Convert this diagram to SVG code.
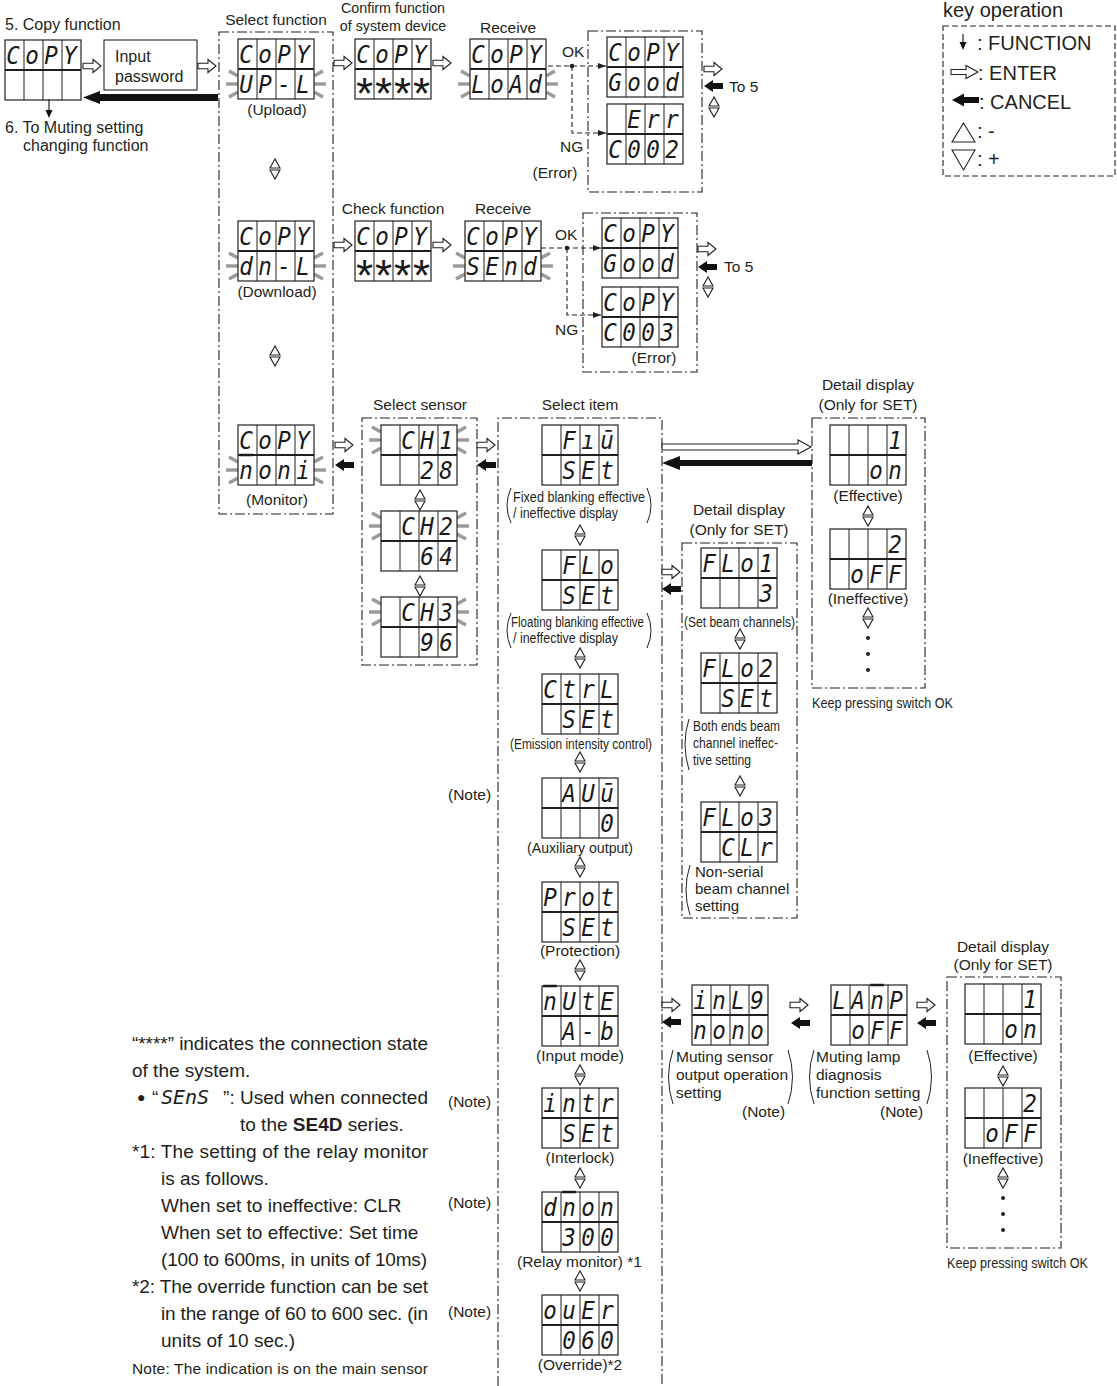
<svg xmlns="http://www.w3.org/2000/svg" width="1117" height="1386" viewBox="0 0 1117 1386">
<style>
text{font-family:"Liberation Sans",Arial,sans-serif;fill:#231f20}
.l{font-size:15.5px}
.m{text-anchor:middle}
.s16{font-size:16px}
.c14{font-size:14.3px}
.big{font-size:19px}
.key{font-size:20px}
.seg{font-family:"DejaVu Sans Mono",monospace;font-style:oblique;font-size:25px;fill:#1a1a1a;text-anchor:middle}
.ov{text-decoration:overline}
.ast{font-family:"Liberation Sans",Arial,sans-serif;font-size:44px;fill:#1a1a1a;text-anchor:middle}
.dd{fill:none;stroke:#231f20;stroke-width:1.1;stroke-dasharray:10 3 2 3}
.kd{fill:none;stroke:#231f20;stroke-width:1.1;stroke-dasharray:6 3}
.cn{fill:none;stroke:#231f20;stroke-width:1.1;stroke-dasharray:5 3}
.par{fill:none;stroke:#231f20;stroke-width:1}
.ent{fill:#fff;stroke:#231f20;stroke-width:1.1}
.can{fill:#111}
.bl{fill:none;stroke:#9b9b9b;stroke-width:3.5}
.ln{fill:none;stroke:#231f20;stroke-width:1.2}
</style>
<defs>
<g id="disp"><rect x="0" y="0" width="76" height="60" fill="#fff" stroke="#231f20" stroke-width="1.2"/><path d="M19 0V60M38 0V60M57 0V60" stroke="#231f20" stroke-width="1"/><path d="M0 30H76" stroke="#231f20" stroke-width="1.8"/></g>
<polygon id="enter" class="ent" points="0,-2.7 10,-2.7 10,-6.5 18,0 10,6.5 10,2.7 0,2.7"/>
<polygon id="cancel" class="can" points="0,0 9,-6 9,-3 19,-3 19,3 9,3 9,6"/>
<g id="ud" class="ent"><polygon points="0,-10 -5,-1 5,-1"/><polygon points="-5,1 5,1 0,10"/></g>
<path id="bL" class="bl" d="M-9,-13L0,-8M-12,0H0M-9,13L0,8"/>
<path id="bR" class="bl" d="M9,-13L0,-8M12,0H0M9,13L0,8"/>
<marker id="ah" viewBox="0 0 8 8" refX="8" refY="4" markerWidth="8" markerHeight="8" markerUnits="userSpaceOnUse" orient="auto"><path d="M0,1L8,4L0,7z" fill="#231f20"/></marker>
</defs>
<rect width="1117" height="1386" fill="#fff"/>

<!-- Copy function -->
<g id="n-copy">
<text class="s16" x="5" y="30">5. Copy function</text>
<g transform="translate(5,40)"><use href="#disp"/><text class="seg" transform="scale(0.9,1)"><tspan x="8.9 30 51.1 72.2" y="24">CoPY</tspan></text></g>
</g>
<g id="n-input">
<rect x="104" y="40" width="93" height="50" fill="#fff" stroke="#231f20" stroke-width="1.1"/>
<text class="s16" x="115" y="62">Input</text>
<text class="s16" x="115" y="82">password</text>
</g>
<g id="n-muting-link">
<text class="s16" x="5" y="133">6. To Muting setting</text>
<text class="s16" x="23" y="151">changing function</text>
</g>

<!-- Select function -->
<g id="n-selectfn">
<text class="l m" x="276" y="25">Select function</text>
<rect class="dd" x="219" y="32" width="114" height="482"/>
</g>
<g id="n-upload" transform="translate(238,39)"><use href="#bL" x="0" y="45"/><use href="#bR" x="76" y="45"/><use href="#disp"/><text class="seg" transform="scale(0.9,1)"><tspan x="8.9 30 51.1 72.2" y="24">CoPY</tspan><tspan x="8.9 30 51.1 72.2" y="54">UP-L</tspan></text><text class="l m" x="39" y="76">(Upload)</text></g>
<g id="n-download" transform="translate(238,221)"><use href="#bL" x="0" y="45"/><use href="#bR" x="76" y="45"/><use href="#disp"/><text class="seg" transform="scale(0.9,1)"><tspan x="8.9 30 51.1 72.2" y="24">CoPY</tspan><tspan x="8.9 30 51.1 72.2" y="54">dn-L</tspan></text><text class="l m" x="39" y="76">(Download)</text></g>
<g id="n-monitor" transform="translate(238,425)"><use href="#bL" x="0" y="45"/><use href="#bR" x="76" y="45"/><use href="#disp"/><text class="seg" transform="scale(0.9,1)"><tspan x="8.9 30 51.1 72.2" y="24">CoPY</tspan><tspan class="ov" x="8.9" y="54">n</tspan><tspan x="30 51.1 72.2" y="54">oni</tspan></text><text class="l m" x="39" y="80">(Monitor)</text></g>

<!-- Upload path -->
<g id="n-confirm" transform="translate(355,39)">
<text class="c14 m" x="38" y="-26">Confirm function</text>
<text class="c14 m" x="38" y="-8">of system device</text>
<use href="#disp"/><text class="seg" transform="scale(0.9,1)"><tspan x="8.9 30 51.1 72.2" y="24">CoPY</tspan></text><text class="ast"><tspan x="9.5 28.5 47.5 66.5" y="70">****</tspan></text>
</g>
<g id="n-receive1" transform="translate(470,39)">
<text class="l m" x="38" y="-6">Receive</text>
<use href="#bL" x="0" y="45"/><use href="#bR" x="76" y="45"/><use href="#disp"/><text class="seg" transform="scale(0.9,1)"><tspan x="8.9 30 51.1 72.2" y="24">CoPY</tspan><tspan x="8.9 30 51.1 72.2" y="54">LoAd</tspan></text>
</g>
<g id="n-result1">
<rect class="dd" x="588" y="31" width="114" height="161"/>
<g transform="translate(607,37)"><use href="#disp"/><text class="seg" transform="scale(0.9,1)"><tspan x="8.9 30 51.1 72.2" y="24">CoPY</tspan><tspan x="8.9 30 51.1 72.2" y="54">Good</tspan></text></g>
<g transform="translate(607,104)"><use href="#disp"/><text class="seg" transform="scale(0.9,1)"><tspan x="30 51.1 72.2" y="24">Err</tspan><tspan x="8.9 30 51.1 72.2" y="54">C002</tspan></text></g>
<text class="l" x="562" y="57">OK</text>
<text class="l" x="560" y="152">NG</text>
<text class="l m" x="555" y="178">(Error)</text>
<text class="l" x="729" y="92">To 5</text>
</g>

<!-- Download path -->
<g id="n-check" transform="translate(355,221)">
<text class="l m" x="38" y="-7">Check function</text>
<use href="#disp"/><text class="seg" transform="scale(0.9,1)"><tspan x="8.9 30 51.1 72.2" y="24">CoPY</tspan></text><text class="ast"><tspan x="9.5 28.5 47.5 66.5" y="70">****</tspan></text>
</g>
<g id="n-receive2" transform="translate(465,221)">
<text class="l m" x="38" y="-7">Receive</text>
<use href="#bL" x="0" y="45"/><use href="#bR" x="76" y="45"/><use href="#disp"/><text class="seg" transform="scale(0.9,1)"><tspan x="8.9 30 51.1 72.2" y="24">CoPY</tspan><tspan x="8.9 30 51.1 72.2" y="54">SEnd</tspan></text>
</g>
<g id="n-result2">
<rect class="dd" x="583" y="213" width="114" height="159"/>
<g transform="translate(602,218)"><use href="#disp"/><text class="seg" transform="scale(0.9,1)"><tspan x="8.9 30 51.1 72.2" y="24">CoPY</tspan><tspan x="8.9 30 51.1 72.2" y="54">Good</tspan></text></g>
<g transform="translate(602,287)"><use href="#disp"/><text class="seg" transform="scale(0.9,1)"><tspan x="8.9 30 51.1 72.2" y="24">CoPY</tspan><tspan x="8.9 30 51.1 72.2" y="54">C003</tspan></text></g>
<text class="l" x="555" y="240">OK</text>
<text class="l" x="555" y="335">NG</text>
<text class="l m" x="654" y="363">(Error)</text>
<text class="l" x="724" y="272">To 5</text>
</g>

<!-- Select sensor -->
<g id="n-sensor">
<text class="l m" x="420" y="410">Select sensor</text>
<rect class="dd" x="362" y="418" width="115" height="247"/>
<g transform="translate(381,425)"><use href="#bL" x="0" y="15"/><use href="#bR" x="76" y="15"/><use href="#disp"/><text class="seg" transform="scale(0.9,1)"><tspan x="30 51.1 72.2" y="24">CH1</tspan><tspan x="51.1 72.2" y="54">28</tspan></text></g>
<g transform="translate(381,511)"><use href="#bL" x="0" y="15"/><use href="#bR" x="76" y="15"/><use href="#disp"/><text class="seg" transform="scale(0.9,1)"><tspan x="30 51.1 72.2" y="24">CH2</tspan><tspan x="51.1 72.2" y="54">64</tspan></text></g>
<g transform="translate(381,597)"><use href="#bL" x="0" y="15"/><use href="#bR" x="76" y="15"/><use href="#disp"/><text class="seg" transform="scale(0.9,1)"><tspan x="30 51.1 72.2" y="24">CH3</tspan><tspan x="51.1 72.2" y="54">96</tspan></text></g>
<use href="#ud" x="420" y="500"/><use href="#ud" x="420" y="586"/>
</g>

<!-- Select item -->
<g id="n-item">
<text class="l m" x="580" y="410">Select item</text>
<path class="dd" d="M498,1386V418H662V1386"/>
<g transform="translate(542,425)"><use href="#disp"/><text class="seg" transform="scale(0.9,1)"><tspan x="30 51.1 72.2" y="24">Fıū</tspan><tspan x="30 51.1 72.2" y="54">SEt</tspan></text></g>
<path class="par" d="M511,488Q503,505.5 511,523M647,488Q655,505.5 647,523"/>
<text style="font-size:14px" x="513" y="502" textLength="132" lengthAdjust="spacingAndGlyphs">Fixed blanking effective</text>
<text style="font-size:14px" x="513" y="518" textLength="105" lengthAdjust="spacingAndGlyphs">/ ineffective display</text>
<g transform="translate(542,550)"><use href="#disp"/><text class="seg" transform="scale(0.9,1)"><tspan x="30 51.1 72.2" y="24">FLo</tspan><tspan x="30 51.1 72.2" y="54">SEt</tspan></text></g>
<path class="par" d="M511,613Q503,630.5 511,648M647,613Q655,630.5 647,648"/>
<text style="font-size:14px" x="511" y="627" textLength="133" lengthAdjust="spacingAndGlyphs">Floating blanking effective</text>
<text style="font-size:14px" x="513" y="643" textLength="105" lengthAdjust="spacingAndGlyphs">/ ineffective display</text>
<g transform="translate(542,674)"><use href="#disp"/><text class="seg" transform="scale(0.9,1)"><tspan x="8.9 30 51.1 72.2" y="24">CtrL</tspan><tspan x="30 51.1 72.2" y="54">SEt</tspan></text></g>
<text class="l" x="510" y="749" textLength="142" lengthAdjust="spacingAndGlyphs">(Emission intensity control)</text>
<g transform="translate(542,778)"><use href="#disp"/><text class="seg" transform="scale(0.9,1)"><tspan x="30 51.1 72.2" y="24">AUū</tspan><tspan x="72.2" y="54">0</tspan></text></g>
<text class="l" x="527" y="853" textLength="106" lengthAdjust="spacingAndGlyphs">(Auxiliary output)</text>
<g transform="translate(542,882)"><use href="#disp"/><text class="seg" transform="scale(0.9,1)"><tspan x="8.9 30 51.1 72.2" y="24">Prot</tspan><tspan x="30 51.1 72.2" y="54">SEt</tspan></text></g>
<text class="l m" x="580" y="956">(Protection)</text>
<g transform="translate(542,986)"><use href="#disp"/><text class="seg" transform="scale(0.9,1)"><tspan class="ov" x="8.9" y="24">n</tspan><tspan x="30 51.1 72.2" y="24">UtE</tspan><tspan x="30 51.1 72.2" y="54">A-b</tspan></text></g>
<text class="l m" x="580" y="1061">(Input mode)</text>
<g transform="translate(542,1088)"><use href="#disp"/><text class="seg" transform="scale(0.9,1)"><tspan x="8.9 30 51.1 72.2" y="24">intr</tspan><tspan x="30 51.1 72.2" y="54">SEt</tspan></text></g>
<text class="l m" x="580" y="1163">(Interlock)</text>
<g transform="translate(542,1192)"><use href="#disp"/><text class="seg" transform="scale(0.9,1)"><tspan x="8.9" y="24">d</tspan><tspan class="ov" x="30" y="24">n</tspan><tspan x="51.1 72.2" y="24">on</tspan><tspan x="30 51.1 72.2" y="54">300</tspan></text></g>
<text class="l" x="517" y="1267">(Relay monitor) *1</text>
<g transform="translate(542,1295)"><use href="#disp"/><text class="seg" transform="scale(0.9,1)"><tspan x="8.9 30 51.1 72.2" y="24">ouEr</tspan><tspan x="30 51.1 72.2" y="54">060</tspan></text></g>
<text class="l m" x="580" y="1370">(Override)*2</text>
<use href="#ud" x="580" y="535"/><use href="#ud" x="580" y="658"/><use href="#ud" x="580" y="762"/><use href="#ud" x="580" y="867"/><use href="#ud" x="580" y="970"/><use href="#ud" x="580" y="1075"/><use href="#ud" x="580" y="1178"/><use href="#ud" x="580" y="1281"/>
<text class="l" x="448" y="800">(Note)</text>
<text class="l" x="448" y="1107">(Note)</text>
<text class="l" x="448" y="1208">(Note)</text>
<text class="l" x="448" y="1317">(Note)</text>
</g>

<!-- Detail display 1 -->
<g id="n-detail1">
<text class="l m" x="868" y="390">Detail display</text>
<text class="l m" x="868" y="410">(Only for SET)</text>
<rect class="dd" x="812" y="418" width="113" height="270"/>
<g transform="translate(830,425)"><use href="#disp"/><text class="seg" transform="scale(0.9,1)"><tspan x="72.2" y="24">1</tspan><tspan x="51.1 72.2" y="54">on</tspan></text></g>
<text class="l m" x="868" y="501">(Effective)</text>
<g transform="translate(830,529)"><use href="#disp"/><text class="seg" transform="scale(0.9,1)"><tspan x="72.2" y="24">2</tspan><tspan x="30 51.1 72.2" y="54">oFF</tspan></text></g>
<text class="l m" x="868" y="604">(Ineffective)</text>
<use href="#ud" x="868" y="516"/><use href="#ud" x="868" y="618"/>
<circle cx="868" cy="638" r="2" fill="#231f20"/><circle cx="868" cy="654" r="2" fill="#231f20"/><circle cx="868" cy="670" r="2" fill="#231f20"/>
<text style="font-size:14px" x="812" y="708" textLength="141" lengthAdjust="spacingAndGlyphs">Keep pressing switch OK</text>
</g>

<!-- Detail display 2 -->
<g id="n-detail2">
<text class="l m" x="739" y="515">Detail display</text>
<text class="l m" x="739" y="535">(Only for SET)</text>
<rect class="dd" x="682" y="543" width="115" height="375"/>
<g transform="translate(701,548)"><use href="#disp"/><text class="seg" transform="scale(0.9,1)"><tspan x="8.9 30 51.1 72.2" y="24">FLo1</tspan><tspan x="72.2" y="54">3</tspan></text></g>
<text style="font-size:15px" x="684" y="627" textLength="111" lengthAdjust="spacingAndGlyphs">(Set beam channels)</text>
<g transform="translate(701,653)"><use href="#disp"/><text class="seg" transform="scale(0.9,1)"><tspan x="8.9 30 51.1 72.2" y="24">FLo2</tspan><tspan x="30 51.1 72.2" y="54">SEt</tspan></text></g>
<path class="par" d="M689,719Q681,744 689,770"/>
<text style="font-size:15px" x="693" y="731" textLength="87" lengthAdjust="spacingAndGlyphs">Both ends beam</text>
<text style="font-size:15px" x="693" y="748" textLength="85" lengthAdjust="spacingAndGlyphs">channel ineffec-</text>
<text style="font-size:15px" x="693" y="765" textLength="58" lengthAdjust="spacingAndGlyphs">tive setting</text>
<g transform="translate(701,802)"><use href="#disp"/><text class="seg" transform="scale(0.9,1)"><tspan x="8.9 30 51.1 72.2" y="24">FLo3</tspan><tspan x="30 51.1 72.2" y="54">CLr</tspan></text></g>
<path class="par" d="M690,865Q682,890 690,915"/>
<text style="font-size:15px" x="695" y="877">Non-serial</text>
<text style="font-size:15px" x="695" y="894">beam channel</text>
<text style="font-size:15px" x="695" y="911">setting</text>
<use href="#ud" x="740" y="639"/><use href="#ud" x="740" y="786"/>
</g>

<!-- Muting settings -->
<g id="n-mutsensor">
<g transform="translate(692,985)"><use href="#disp"/><text class="seg" transform="scale(0.9,1)"><tspan x="8.9 30 51.1 72.2" y="24">inL9</tspan><tspan x="8.9 30 51.1 72.2" y="54">nono</tspan></text></g>
<path class="par" d="M673,1050Q664,1077 673,1104M788,1050Q797,1077 788,1104"/>
<text class="l" x="676" y="1062">Muting sensor</text>
<text class="l" x="676" y="1080">output operation</text>
<text class="l" x="676" y="1098">setting</text>
<text class="l" x="742" y="1117">(Note)</text>
</g>
<g id="n-mutlamp">
<g transform="translate(831,985)"><use href="#disp"/><text class="seg" transform="scale(0.9,1)"><tspan x="8.9 30" y="24">LA</tspan><tspan class="ov" x="51.1" y="24">n</tspan><tspan x="72.2" y="24">P</tspan><tspan x="30 51.1 72.2" y="54">oFF</tspan></text></g>
<path class="par" d="M814,1050Q805,1077 814,1104M927,1050Q936,1077 927,1104"/>
<text class="l" x="816" y="1062">Muting lamp</text>
<text class="l" x="816" y="1080">diagnosis</text>
<text class="l" x="816" y="1098">function setting</text>
<text class="l" x="880" y="1117">(Note)</text>
</g>
<g id="n-detail3">
<text class="l m" x="1003" y="952">Detail display</text>
<text class="l m" x="1003" y="970">(Only for SET)</text>
<rect class="dd" x="947" y="977" width="114" height="271"/>
<g transform="translate(965,984)"><use href="#disp"/><text class="seg" transform="scale(0.9,1)"><tspan x="72.2" y="24">1</tspan><tspan x="51.1 72.2" y="54">on</tspan></text></g>
<text class="l m" x="1003" y="1061">(Effective)</text>
<g transform="translate(965,1088)"><use href="#disp"/><text class="seg" transform="scale(0.9,1)"><tspan x="72.2" y="24">2</tspan><tspan x="30 51.1 72.2" y="54">oFF</tspan></text></g>
<text class="l m" x="1003" y="1164">(Ineffective)</text>
<use href="#ud" x="1003" y="1076"/><use href="#ud" x="1003" y="1178"/>
<circle cx="1003" cy="1198" r="2" fill="#231f20"/><circle cx="1003" cy="1214" r="2" fill="#231f20"/><circle cx="1003" cy="1230" r="2" fill="#231f20"/>
<text style="font-size:14px" x="947" y="1268" textLength="141" lengthAdjust="spacingAndGlyphs">Keep pressing switch OK</text>
</g>

<!-- Key legend -->
<g id="n-key">
<text class="key" x="943" y="17">key operation</text>
<rect class="kd" x="943" y="26" width="172" height="150"/>
<path class="ln" d="M963,34V43"/><polygon points="959.5,42 966.5,42 963,50" fill="#111"/>
<text class="key" x="977" y="50">: FUNCTION</text>
<polygon class="ent" points="951,69.5 966,69.5 966,65.5 978,72 966,78.5 966,74.5 951,74.5"/>
<text class="key" x="978" y="80">: ENTER</text>
<polygon class="can" points="952,100 964,93.5 964,97 979,97 979,103 964,103 964,106.5"/>
<text class="key" x="979" y="109">: CANCEL</text>
<polygon class="ent" points="963.5,123 952,142 975,142"/>
<text class="key" x="977" y="138">: -</text>
<polygon class="ent" points="952,150 975,150 963.5,170"/>
<text class="key" x="977" y="166">: +</text>
</g>

<!-- Connectors -->
<g id="connectors">
<path class="ln" d="M49,99V111"/><polygon points="45.5,110 52.5,110 49,118" fill="#111"/>
<use href="#enter" x="83" y="66"/>
<use href="#enter" x="198" y="66"/>
<polygon class="can" points="83,97.5 100,91 100,94 218,94 218,101 100,101 100,104"/>
<use href="#enter" x="334" y="63"/>
<use href="#enter" x="433" y="63"/>
<use href="#enter" x="334" y="245"/>
<use href="#enter" x="433" y="245"/>
<path class="cn" d="M548,66H606" marker-end="url(#ah)"/>
<path class="cn" d="M572,66V133H606" marker-end="url(#ah)"/>
<circle cx="572" cy="66" r="2.3" fill="#231f20"/>
<path class="cn" d="M541,248H601" marker-end="url(#ah)"/>
<path class="cn" d="M567,248V315H601" marker-end="url(#ah)"/>
<circle cx="567" cy="248" r="2.3" fill="#231f20"/>
<use href="#enter" x="704" y="69"/>
<use href="#cancel" x="704" y="86"/>
<use href="#ud" x="714" y="107"/>
<use href="#enter" x="698" y="249"/>
<use href="#cancel" x="698" y="267"/>
<use href="#ud" x="708" y="287"/>
<use href="#enter" x="335" y="445"/>
<use href="#cancel" x="335" y="465"/>
<use href="#enter" x="477" y="445"/>
<use href="#cancel" x="477" y="465"/>
<polygon class="ent" points="662,444 798,444 798,440 811,447 798,454 798,450 662,450"/>
<polygon class="can" points="662,463 680,456 680,460 812,460 812,466 680,466 680,470"/>
<use href="#enter" x="662" y="572"/>
<use href="#cancel" x="662" y="589"/>
<use href="#enter" x="662" y="1005"/>
<use href="#cancel" x="662" y="1022"/>
<use href="#enter" x="790" y="1005"/>
<use href="#cancel" x="791" y="1023"/>
<use href="#enter" x="917" y="1005"/>
<use href="#cancel" x="917" y="1023"/>
<use href="#ud" x="275" y="169"/>
<use href="#ud" x="275" y="356"/>
</g>

<!-- Notes -->
<g id="notes">
<text class="big" x="132" y="1050" textLength="296" lengthAdjust="spacing">“****” indicates the connection state</text>
<text class="big" x="132" y="1077">of the system.</text>
<text style="font-size:14px" x="137" y="1102">●</text>
<text class="big" x="152" y="1104">“</text>
<text class="seg" style="font-size:20px;text-anchor:start" x="161" y="1104">SEnS</text>
<text class="big" x="428" y="1104" text-anchor="end">”: Used when connected</text>
<text class="big" x="240" y="1131">to the <tspan font-weight="bold">SE4D</tspan> series.</text>
<text class="big" x="132" y="1158" textLength="296" lengthAdjust="spacing">*1: The setting of the relay monitor</text>
<text class="big" x="161" y="1185">is as follows.</text>
<text class="big" x="161" y="1212">When set to ineffective: CLR</text>
<text class="big" x="161" y="1239">When set to effective: Set time</text>
<text class="big" x="161" y="1266" textLength="266" lengthAdjust="spacing">(100 to 600ms, in units of 10ms)</text>
<text class="big" x="132" y="1293" textLength="296" lengthAdjust="spacing">*2: The override function can be set</text>
<text class="big" x="161" y="1320" textLength="267" lengthAdjust="spacing">in the range of 60 to 600 sec. (in</text>
<text class="big" x="161" y="1347">units of 10 sec.)</text>
<text style="font-size:15.5px" x="132" y="1374" textLength="296" lengthAdjust="spacing">Note:  The indication is on the main sensor</text>
</g>
</svg>
